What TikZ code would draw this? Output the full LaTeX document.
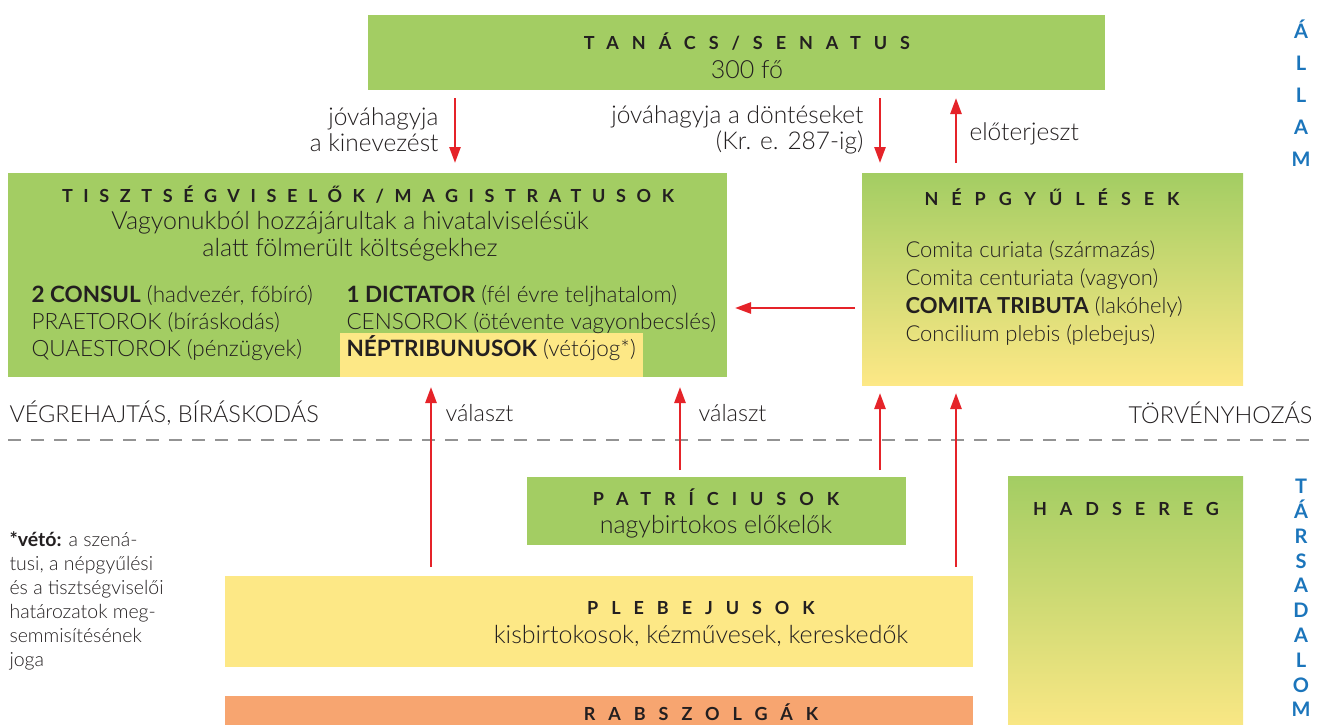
\documentclass[tikz,border=0pt]{standalone}
\usepackage{fontspec}
\setmainfont{Lato Light}[BoldFont=Lato Bold]
\newfontfamily\sidefont{Lato}
\usetikzlibrary{arrows.meta}
\definecolor{boxgreen}{HTML}{A3CD63}
\definecolor{boxyellow}{HTML}{FDE886}
\definecolor{boxorange}{HTML}{F7A570}
\definecolor{arrowred}{HTML}{E52329}
\definecolor{sideblue}{HTML}{1B75BB}
\definecolor{textdark}{HTML}{231F20}
\begin{document}
\begin{tikzpicture}[x=1pt,y=-1pt,
        box/.style={anchor=north west,inner sep=0pt,outer sep=0pt},
        redarrow/.style={arrowred,line width=2.6pt,-{Triangle[length=16pt,width=11pt]}},
        title/.style={text=textdark,font=\fontsize{18}{20}\selectfont\bfseries\addfontfeatures{LetterSpace=72}},
        body/.style={text=textdark,font=\fontsize{25}{27}\selectfont},
        small/.style={text=textdark,font=\fontsize{22.5}{27}\selectfont},
        label/.style={text=textdark,font=\fontsize{23.5}{26}\selectfont},
        side/.style={text=sideblue,align=center}]
        \useasboundingbox (0,0) rectangle (1317,724);
        % boxes
        \node[box,fill=boxgreen,minimum width=737pt,minimum height=75pt] (senate) at (368,15) {};
        \node[box,fill=boxgreen,minimum width=719pt,minimum height=204pt] (magi) at (8,173) {};
        \fill[boxyellow] (340,333) rectangle (643,377);
        \node[box,top color=boxgreen,bottom color=boxyellow,minimum width=381pt,minimum height=212pt] (nep) at (862,173) {};
        \node[box,fill=boxgreen,minimum width=379pt,minimum height=68pt] (patr) at (527,477) {};
        \node[box,fill=boxyellow,minimum width=748pt,minimum height=91pt] (pleb) at (225,576) {};
        \node[box,fill=boxorange,minimum width=748pt,minimum height=40pt] (rab) at (225,696) {};
        \node[box,top color=boxgreen,bottom color=boxyellow,minimum width=235pt,minimum height=260pt] (had) at (1008,476) {};
        % texts in the boxes
        \node[title] (senate-t) at (747,42) {TANÁCS/SENATUS};
        \node[body] (senate-n) at (747,70) {300 fő};
        \node[title,font=\fontsize{18}{20}\selectfont\bfseries\addfontfeatures{LetterSpace=59}] (magi-t) at (368,195) {TISZTSÉGVISELŐK/MAGISTRATUSOK};
        \node[body,align=center] (magi-s) at (350,236) {Vagyonukból hozzájárultak a hivatalviselésük\\alatt fölmerült költségekhez};
        \node[small,align=left,anchor=west] (magi-l) at (28,323) {\textbf{2 CONSUL} (hadvezér, főbíró)\\PRAETOROK (bíráskodás)\\QUAESTOROK (pénzügyek)};
        \node[small,align=left,anchor=west] (magi-r) at (343,323) {\textbf{1 DICTATOR} (fél évre teljhatalom)\\CENSOROK (ötévente vagyonbecslés)\\\textbf{NÉPTRIBUNUSOK} (vétójog*)};
        \node[title] (nep-t) at (1052,197) {NÉPGYŰLÉSEK};
        \node[small,align=left,anchor=west,font=\fontsize{22}{28}\selectfont] (nep-l) at (902,293) {Comita curiata (származás)\\Comita centuriata (vagyon)\\\textbf{COMITA TRIBUTA} (lakóhely)\\Concilium plebis (plebejus)};
        \node[title] (patr-t) at (716,497) {PATRÍCIUSOK};
        \node[body] (patr-s) at (716,527) {nagybirtokos előkelők};
        \node[title] (pleb-t) at (701,608) {PLEBEJUSOK};
        \node[body] (pleb-s) at (701,636) {kisbirtokosok, kézművesek, kereskedők};
        \node[title] (rab-t) at (701,712) {RABSZOLGÁK};
        \node[title] (had-t) at (1126,509) {HADSEREG};
        % side and separator
        \draw[gray!85,line width=2.6pt,dash pattern=on 13pt off 10pt] (8,440) -- (1317,440);
        \node[label,anchor=west] (exec) at (6,413) {VÉGREHAJTÁS, BÍRÁSKODÁS};
        \node[label,anchor=east] (law) at (1316,413) {TÖRVÉNYHOZÁS};
        \node[side,font=\fontsize{20}{32}\selectfont\sidefont\bfseries] (allam) at (1301,93) {Á\\L\\L\\A\\M};
        \node[side,font=\fontsize{20}{24.8}\selectfont\sidefont\bfseries] (tars) at (1301,598) {T\\Á\\R\\S\\A\\D\\A\\L\\O\\M};
        \node[text=textdark,font=\fontsize{19.5}{24}\selectfont,align=left,anchor=north west] (note) at (6,528) {\textbf{*vétó:} a szená-\\tusi, a népgyűlési\\és a tisztségviselői\\határozatok meg-\\semmisítésének\\joga};
        % arrows
        \coordinate (x431) at (431,0);
        \coordinate (x455) at (455,0);
        \coordinate (x680) at (680,0);
        \coordinate (x880) at (880,0);
        \coordinate (x956) at (956,0);
        \coordinate (y308) at (0,308);
        \draw[redarrow,shorten <=8pt,shorten >=10pt] (senate.south -| x455) -- (magi.north -| x455);
        \draw[redarrow,shorten <=8pt,shorten >=10pt] (senate.south -| x880) -- (nep.north -| x880);
        \draw[redarrow,shorten <=10pt,shorten >=8pt] (nep.north -| x956) -- (senate.south -| x956);
        \draw[redarrow,shorten <=7pt,shorten >=8pt] (nep.west |- y308) -- (magi.east |- y308);
        \draw[redarrow,shorten <=9pt,shorten >=10pt] (pleb.north -| x431) -- (magi.south -| x431);
        \draw[redarrow,shorten <=7pt,shorten >=10pt] (patr.north -| x680) -- (magi.south -| x680);
        \draw[redarrow,shorten <=7pt,shorten >=8pt] (patr.north -| x880) -- (nep.south -| x880);
        \draw[redarrow,shorten <=9pt,shorten >=8pt] (pleb.north -| x956) -- (nep.south -| x956);
        % arrow labels
        \node[label,align=right,anchor=east,font=\fontsize{24.5}{26}\selectfont] (appoint) at (442,130) {jóváhagyja\\a kinevezést};
        \node[label,align=right,anchor=east,font=\fontsize{24.5}{26}\selectfont] (decide) at (867,130) {jóváhagyja a döntéseket\\(Kr. e. 287-ig)};
        \node[label,anchor=west,font=\fontsize{24.5}{26}\selectfont] (propose) at (966,134) {előterjeszt};
        \node[label,anchor=west] (elect1) at (442,413) {választ};
        \node[label,anchor=west] (elect2) at (695,413) {választ};
\end{tikzpicture}
\end{document}
